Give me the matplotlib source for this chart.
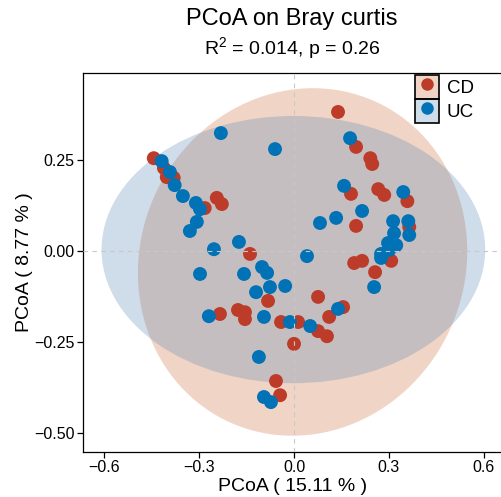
import matplotlib
matplotlib.use("Agg")
import matplotlib.pyplot as plt
from matplotlib.patches import Ellipse, Rectangle
from matplotlib.lines import Line2D
from matplotlib.legend_handler import HandlerTuple

plt.rcParams['font.family'] = ['Liberation Sans', 'DejaVu Sans']
plt.rcParams['mathtext.fontset'] = 'custom'
plt.rcParams['mathtext.rm'] = 'Liberation Sans'
plt.rcParams['mathtext.it'] = 'Liberation Sans:italic'
plt.rcParams['axes.unicode_minus'] = True

# ---- data ----
groups = ["CD", "UC"]
cd_x = [-0.443, -0.411, -0.402, -0.380, -0.282, -0.244, -0.228, -0.139, -0.082, -0.177,
        -0.155, -0.155, -0.234, -0.041, 0.013, 0.000, 0.076, 0.076, 0.104, 0.111,
        0.155, -0.057, -0.044, 0.139, 0.196, 0.241, 0.247, 0.180, 0.266, 0.285,
        0.358, 0.196, 0.190, 0.215, 0.307, 0.256, 0.364]
cd_y = [0.255, 0.228, 0.203, 0.201, 0.118, 0.146, 0.129, -0.008, -0.137, -0.162,
        -0.168, -0.187, -0.173, -0.195, -0.195, -0.255, -0.126, -0.220, -0.234, -0.181,
        -0.154, -0.357, -0.396, 0.382, 0.286, 0.255, 0.239, 0.157, 0.170, 0.154,
        0.137, 0.069, -0.033, -0.027, -0.027, -0.058, 0.066]
uc_x = [-0.418, -0.392, -0.377, -0.351, -0.310, -0.297, -0.307, -0.329, -0.231, -0.060,
        -0.174, -0.253, -0.297, -0.158, -0.101, -0.085, -0.076, -0.028, -0.120, -0.269,
        -0.095, -0.013, 0.051, 0.139, -0.111, -0.095, -0.073, 0.177, 0.158, 0.345,
        0.215, 0.133, 0.082, 0.313, 0.361, 0.316, 0.364, 0.297, 0.323, 0.301,
        0.275, 0.275, 0.041, 0.253]
uc_y = [0.247, 0.217, 0.181, 0.151, 0.132, 0.115, 0.080, 0.055, 0.324, 0.280,
        0.025, 0.005, -0.063, -0.063, -0.044, -0.060, -0.099, -0.096, -0.113, -0.179,
        -0.181, -0.195, -0.206, -0.159, -0.291, -0.401, -0.415, 0.310, 0.179, 0.162,
        0.110, 0.091, 0.077, 0.082, 0.082, 0.049, 0.044, 0.022, 0.016, 0.003,
        -0.008, -0.019, -0.014, -0.099]

# ellipse parameters (center x, center y, full width, full height, angle in degrees)
cd_ellipse = [0.027, -0.030, 1.05, 0.944, 18.0]
uc_ellipse = [-0.002, 0.004, 1.212, 0.734, 0.0]

xticks = [-0.6, -0.3, 0.0, 0.3, 0.6]
yticks = [-0.50, -0.25, 0.00, 0.25]
xlabel = "PCoA ( 15.11 % )"
ylabel = "PCoA ( 8.77 % )"
title = "PCoA on Bray curtis"
subtitle = r"R$^{\mathrm{2}}$ = 0.014, p = 0.26"

# ---- style ----
pt_colors = {"CD": "#BC3C29", "UC": "#0072B5"}
fill_colors = {"CD": "#D07341", "UC": "#628CB9"}
fill_alpha = 0.3

W, H = 501, 497
fig = plt.figure(figsize=(W / 100, H / 100), dpi=100)
ax = fig.add_axes([83 / W, 1 - 452 / H, 1 - 83 / W + 0.002, (452 - 73) / H])

for name, e in (("CD", cd_ellipse), ("UC", uc_ellipse)):
    ax.add_patch(Ellipse((e[0], e[1]), e[2], e[3], angle=e[4],
                         facecolor=fill_colors[name], alpha=fill_alpha,
                         edgecolor='none', zorder=1))

ax.scatter(cd_x, cd_y, s=100, color=pt_colors["CD"], edgecolors='none', zorder=3)
ax.scatter(uc_x, uc_y, s=100, color=pt_colors["UC"], edgecolors='none', zorder=3)

ax.axhline(0, color='#c8c8c8', lw=0.8, ls=(0, (4, 4)), zorder=4)
ax.axvline(0, color='#c8c8c8', lw=0.8, ls=(0, (4, 4)), zorder=4)

ax.set_xlim(-0.6666, 0.657)
ax.set_ylim(-0.552, 0.489)
ax.set_xticks(xticks)
ax.set_xticklabels([f"{v:.1f}".replace("-", "\u2212") for v in xticks])
ax.set_yticks(yticks)
ax.set_yticklabels([f"{v:.2f}".replace("-", "\u2212") for v in yticks])
ax.tick_params(axis='both', direction='out', length=4, width=0.9, labelsize=11.5,
               colors='black', pad=2)
for sp in ax.spines.values():
    sp.set_linewidth(0.9)
    sp.set_color('black')

ax.set_xlabel(xlabel, fontsize=14, labelpad=2)
ax.set_ylabel(ylabel, fontsize=14, labelpad=0.5)

fig.text(292 / W, 1 - 25 / H, title, ha='center', va='baseline', fontsize=17)
fig.text(292 / W, 1 - 54 / H, subtitle, ha='center', va='baseline', fontsize=14)

handles = []
for name in groups:
    rect = Rectangle((0, 0), 1, 1, facecolor=fill_colors[name], alpha=fill_alpha,
                     edgecolor='none')
    border = Rectangle((0, 0), 1, 1, facecolor='none', edgecolor='black', lw=1.2)
    dot = Line2D([], [], marker='o', ls='none', markersize=9,
                 markerfacecolor=pt_colors[name], markeredgecolor='none')
    handles.append((rect, border, dot))
leg = fig.legend(handles, groups, handler_map={tuple: HandlerTuple(ndivide=1, pad=0)},
                 loc='upper left', bbox_to_anchor=(415 / W, 1 - 75 / H),
                 frameon=False, fontsize=13.5, handlelength=1.3, handleheight=1.6,
                 labelspacing=0.0, handletextpad=0.4, borderpad=0, borderaxespad=0)

fig.savefig("out.png", dpi=100)
